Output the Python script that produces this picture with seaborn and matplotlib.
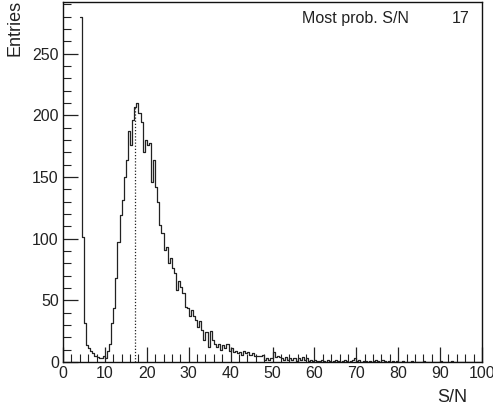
import numpy as np
import pandas as pd
import matplotlib
matplotlib.use("Agg")
import matplotlib.pyplot as plt
from matplotlib.ticker import MultipleLocator
import seaborn as sns

# S/N histogram, bin width 0.5, first bin starts at 4.0
bin_width = 0.5
first_edge = 4.0
counts = [
    280, 101, 32, 14, 11, 9, 7, 5, 4, 3, 3, 5,          # 4.0 - 9.5
    3, 9, 15, 32, 44, 68, 97, 119, 131, 150, 164, 187,  # 10.0 - 15.5
    176, 196, 207, 210, 202, 195, 170, 180, 176, 178, 146, 164,  # 16.0 - 21.5
    142, 130, 111, 105, 91, 93, 80, 84, 76, 72, 58, 66,  # 22.0 - 27.5
    61, 56, 45, 44, 37, 42, 37, 34, 28, 33, 26, 18,     # 28.0 - 33.5
    24, 12, 25, 18, 15, 12, 15, 10, 14, 11, 15, 9,      # 34.0 - 39.5
    11, 8, 9, 7, 8, 6, 9, 7, 8, 6, 7, 5,                # 40.0 - 45.5
    5, 5, 5, 6, 2, 3, 2, 3, 8, 4, 5, 4,                 # 46.0 - 51.5
    3, 2, 4, 2, 3, 2, 3, 1, 3, 2, 4, 2,                 # 52.0 - 57.5
    3, 1, 2, 1, 2, 1, 1, 2, 1, 0, 2, 1,                 # 58.0 - 63.5
    0, 1, 2, 1, 0, 1, 2, 1, 0, 1, 2, 3,                 # 64.0 - 69.5
    1, 2, 0, 1, 1, 0, 1, 0, 1, 2, 1, 0,                 # 70.0 - 75.5
    2, 1, 0, 1, 0, 1, 0, 1, 0, 0, 1, 0,                 # 76.0 - 81.5
    0, 0, 1, 0, 0, 0, 0, 0, 1, 0, 0, 0,                 # 82.0 - 87.5
    0, 0, 0, 0, 1, 0, 0, 0, 0, 1, 0, 0,                 # 88.0 - 93.5
    0, 0, 0, 0, 0, 0, 0, 0, 0, 0, 0, 0,                 # 94.0 - 99.5
]
most_prob = 17.2
peak_height = 208

edges = [first_edge + bin_width * i for i in range(len(counts) + 1)]
df = pd.DataFrame({"sn": [e + bin_width / 2 for e in edges[:-1]], "n": counts})

sns.set_style("ticks")
plt.rcParams["font.family"] = ["Liberation Sans", "DejaVu Sans"]

fig = plt.figure(figsize=(4.93, 4.09), dpi=100)
ax = fig.add_axes([63 / 493, 1 - 362 / 409, (482 - 63) / 493, (362 - 2) / 409])

sns.histplot(data=df, x="sn", weights="n", bins=edges, element="step",
             fill=False, color="#222222", linewidth=0.9, ax=ax)
ax.vlines(most_prob, 0, peak_height, colors="#222222", linestyles=(0, (1, 1.5)),
          linewidth=0.9)

ax.set_xlim(0, 100)
ax.set_ylim(0, 292)
ax.xaxis.set_major_locator(MultipleLocator(10))
ax.xaxis.set_minor_locator(MultipleLocator(2))
ax.yaxis.set_major_locator(MultipleLocator(50))
ax.yaxis.set_minor_locator(MultipleLocator(10))
ax.tick_params(which="both", direction="in", top=False, right=False,
               labelsize=11.5, labelcolor="#222222", color="#222222")
ax.tick_params(which="major", length=11, width=0.9, pad=3)
ax.tick_params(which="minor", length=6, width=0.8)
for s in ax.spines.values():
    s.set_visible(True)
    s.set_linewidth(1.0)
    s.set_color("#111111")

ax.set_xlabel("")
ax.set_ylabel("")
fig.text(467 / 493, 1 - 397 / 409, "S/N", ha="right", va="center",
         fontsize=13, color="#222222")
fig.text(15 / 493, 1 - 0 / 409, "Entries", ha="center", va="top",
         rotation=90, fontsize=13, color="#222222")
ax.text(0.57, 0.955, "Most prob. S/N", transform=ax.transAxes, ha="left",
        va="center", fontsize=11.5, color="#222222")
ax.text(0.97, 0.955, f"{most_prob:.0f}", transform=ax.transAxes, ha="right",
        va="center", fontsize=11.5, color="#222222")

fig.savefig("out.png", dpi=100)
